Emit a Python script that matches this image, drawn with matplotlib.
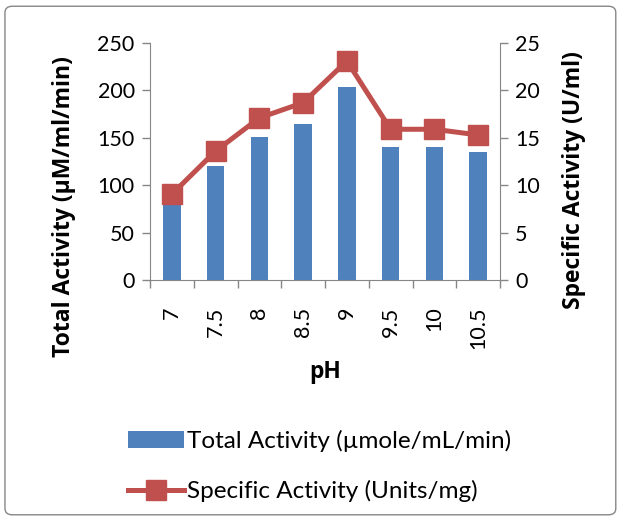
import numpy as np
import matplotlib.pyplot as plt
from matplotlib.patches import FancyBboxPatch

ph = ['7', '7.5', '8', '8.5', '9', '9.5', '10', '10.5']
total_activity = [80, 120, 151, 165, 204, 140, 140, 135]
specific_activity = [9.05, 13.6, 17.1, 18.7, 23.1, 15.9, 15.9, 15.3]

plt.rcParams['font.family'] = ['Lato', 'DejaVu Sans']
grey = '#868686'
blue = '#4F81BD'
red = '#C0504D'
label_font = dict(family=['Open Sans', 'DejaVu Sans'], fontsize=16.5, fontweight='bold')

fig = plt.figure(figsize=(6.22, 5.2), dpi=100)
fig.patch.set_visible(False)
frame = FancyBboxPatch((0.008, 0.01), 0.982, 0.978, boxstyle='round,pad=0,rounding_size=0.012',
                       transform=fig.transFigure, fc='white', ec=grey, lw=1.0, zorder=-10)
fig.patches.append(frame)
ax = fig.add_axes([150 / 622, 1 - 280 / 520, 350 / 622, 237 / 520])
ax2 = ax.twinx()

x = np.arange(len(ph))
bars = ax.bar(x, total_activity, width=0.4, color=blue, label='Total Activity (µmole/mL/min)', zorder=2)
line, = ax2.plot(x, specific_activity, color=red, lw=3.6, marker='s', ms=14,
                 label='Specific Activity (Units/mg)', zorder=3)

ax.set_xlim(-0.5, len(ph) - 0.5)
ax.set_ylim(0, 250)
ax2.set_ylim(0, 25)
ax.set_yticks(range(0, 251, 50))
ax2.set_yticks(range(0, 26, 5))

ax.set_xticks(x)
ax.set_xticklabels(ph, rotation=90, fontsize=15.5)
ax.tick_params(axis='x', length=0, pad=19)
ax.set_xticks(np.arange(-0.5, len(ph), 1), minor=True)
ax.tick_params(axis='x', which='minor', length=6, color=grey, width=1)
ax.tick_params(axis='y', labelsize=15.5, length=6, color=grey, width=1, pad=5)
ax2.tick_params(axis='y', labelsize=15.5, length=6, color=grey, width=1, pad=5)

for a in (ax, ax2):
    for s in a.spines.values():
        s.set_visible(False)
ax.spines['left'].set_visible(True)
ax.spines['left'].set_color(grey)
ax.spines['bottom'].set_visible(True)
ax.spines['bottom'].set_color(grey)
ax2.spines['right'].set_visible(True)
ax2.spines['right'].set_color(grey)

ax.set_zorder(1)
ax2.set_zorder(2)
ax.patch.set_visible(False)
ax2.patch.set_visible(False)

ax.set_xlabel('pH', labelpad=8, **label_font)
ax.set_ylabel('Total Activity (µM/ml/min)', **label_font)
ax2.set_ylabel('Specific Activity (U/ml)', **label_font)
ax.yaxis.set_label_coords(-74 / 350, (280 - 207) / 237)
ax2.yaxis.set_label_coords(1 + 62 / 350, (280 - 180) / 237)

fig.legend([bars, line], [bars.get_label(), line.get_label()], loc='upper left',
           bbox_to_anchor=(128 / 622, 1 - 430 / 520), frameon=False, fontsize=17.5,
           borderpad=0, borderaxespad=0,
           handlelength=2.3, handletextpad=0.12, labelspacing=1.15)

plt.savefig('out.png', dpi=100)
